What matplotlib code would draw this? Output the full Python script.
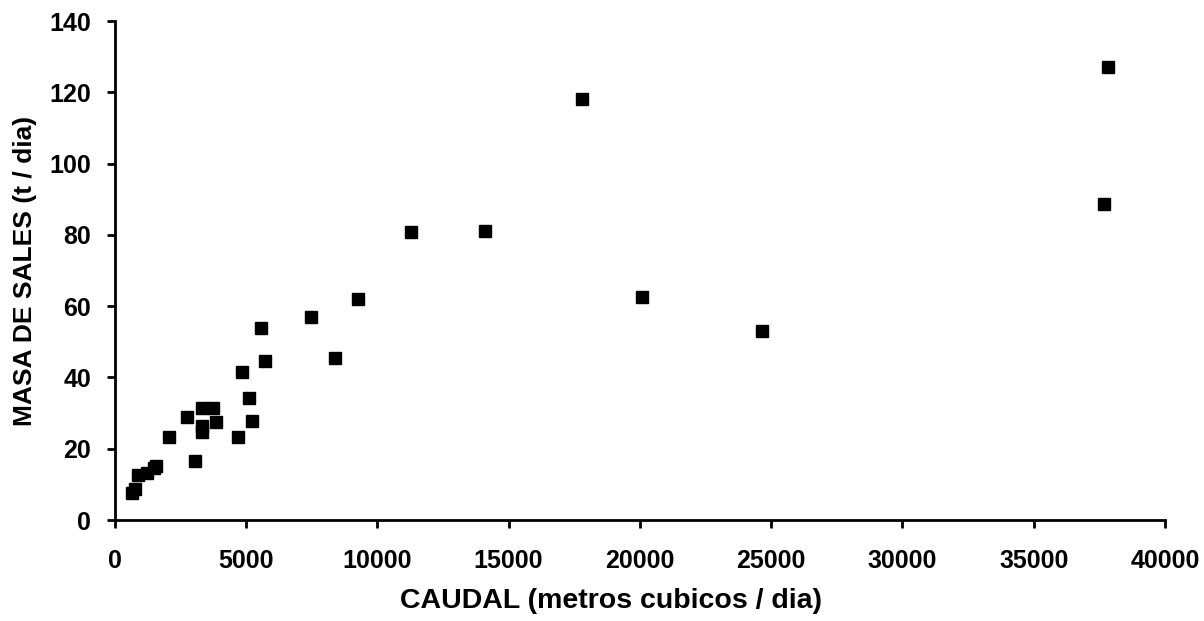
import matplotlib.pyplot as plt

# caudal (m3/dia) y masa de sales (t/dia)
caudal = [670, 773, 900, 1218, 1497, 1560, 2080, 2740, 3058, 3310, 3730,
          3340, 3340, 3860, 4680, 4835, 5100, 5240, 5583, 5723, 7487,
          8390, 9254, 11270, 14100, 17790, 20090, 24660, 37670, 37840]
masa = [7.7, 8.6, 12.6, 13.1, 14.5, 15.2, 23.4, 28.8, 16.6, 31.3, 31.5,
        26.4, 24.8, 27.6, 23.4, 41.4, 34.1, 27.9, 53.8, 44.6, 57.0,
        45.5, 61.9, 80.8, 81.0, 118.1, 62.5, 53.1, 88.8, 127.2]

xticks = [0, 5000, 10000, 15000, 20000, 25000, 30000, 35000, 40000]
yticks = [0, 20, 40, 60, 80, 100, 120, 140]

plt.rcParams['font.family'] = ['Liberation Sans', 'DejaVu Sans']

fig = plt.figure(figsize=(12.04, 6.21), dpi=100)
ax = fig.add_axes([0.0953, 0.1626, 0.8723, 0.8035])

ax.plot(caudal, masa, 's', color='black', markersize=8, clip_on=False)

ax.set_xlim(0, 40000)
ax.set_ylim(0, 140)
ax.set_xticks(xticks)
ax.set_yticks(yticks)

for s in ['top', 'right']:
    ax.spines[s].set_visible(False)
for s in ['left', 'bottom']:
    ax.spines[s].set_linewidth(2)

ax.tick_params(direction='out', length=6, width=2, labelsize=18)
ax.tick_params(axis='x', pad=15)
ax.tick_params(axis='y', pad=11)
for lab in ax.get_xticklabels() + ax.get_yticklabels():
    lab.set_fontweight('bold')

ax.set_xlabel('CAUDAL (metros cubicos / dia)', fontsize=20.5, fontweight='bold')
ax.xaxis.set_label_coords(0.4725, -0.137)
ax.set_ylabel('MASA DE SALES (t / dia)', fontsize=19, fontweight='bold', labelpad=9)

fig.savefig('out.png', dpi=100)
